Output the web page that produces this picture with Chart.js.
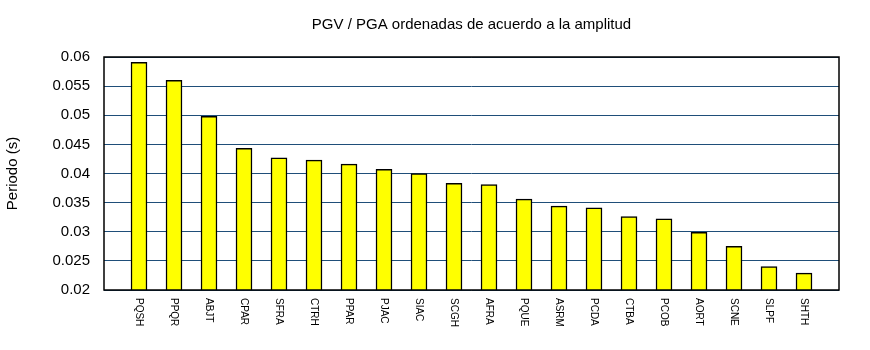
<!DOCTYPE html>
<html lang="es">
<head>
<meta charset="UTF-8" />
<title>PGV / PGA ordenadas de acuerdo a la amplitud</title>
<script src="https://cdn.jsdelivr.net/npm/chart.js"></script>
<style>
  body { margin: 0; background: #fff; }
  #wrap { width: 870px; height: 350px; }
</style>
</head>
<body>
<div id="wrap"><canvas id="periodChart"></canvas></div>
<script>
  const stations = ['PQSH', 'PPQR', 'ABJT', 'CPAR', 'SFRA', 'CTRH', 'PPAR', 'PJAC', 'SIAC', 'SCGH',
                    'AFRA', 'PQUE', 'ASRM', 'PCDA', 'CTBA', 'PCOB', 'AORT', 'SCNE', 'SLPF', 'SHTH'];
  const periods = [0.0591, 0.0560, 0.0498, 0.0443, 0.0427, 0.0423, 0.0416, 0.0407, 0.0400, 0.0383,
                   0.0381, 0.0356, 0.0344, 0.0341, 0.0326, 0.0322, 0.0299, 0.0275, 0.0240, 0.0229];
  const yMin = 0.02, yMax = 0.06, yStep = 0.005;

  const font = 'Liberation Sans, Arial, sans-serif';

  // labels read top-to-bottom, plus the closed box round the plot
  const boxAndLabels = {
    id: 'boxAndLabels',
    afterDraw(chart) {
      const ctx = chart.ctx;
      const xs = chart.scales.x;
      const a = chart.chartArea;
      ctx.save();
      ctx.font = '10px ' + font;
      ctx.fillStyle = '#000';
      ctx.textAlign = 'left';
      ctx.textBaseline = 'middle';
      stations.forEach((s, i) => {
        const x = xs.getPixelForValue(i + 1);
        ctx.save();
        ctx.translate(x, a.bottom + 8);
        ctx.rotate(Math.PI / 2);
        ctx.fillText(s, 0, 0);
        ctx.restore();
      });
      ctx.strokeStyle = '#000';
      ctx.lineWidth = 1.5;
      ctx.strokeRect(a.left, a.top, a.right - a.left, a.bottom - a.top);
      ctx.restore();
    }
  };

  new Chart(document.getElementById('periodChart'), {
    type: 'bar',
    data: {
      datasets: [{
        data: periods.map((p, i) => ({ x: i + 1, y: p })),
        backgroundColor: '#ffff00',
        borderColor: '#000',
        borderWidth: 1.5,
        barThickness: 16
      }]
    },
    options: {
      responsive: true,
      maintainAspectRatio: false,
      animation: false,
      layout: { padding: { right: 31 } },
      plugins: {
        legend: { display: false },
        tooltip: { enabled: false },
        title: {
          display: true,
          fullSize: false,
          text: 'PGV / PGA ordenadas de acuerdo a la amplitud',
          color: '#000',
          font: { family: font, size: 15, weight: 'normal' },
          padding: { top: 16, bottom: 23 }
        }
      },
      scales: {
        x: {
          type: 'linear',
          min: 0,
          max: stations.length + 1,
          offset: false,
          grid: { display: false, offset: false },
          border: { display: false },
          ticks: { display: false },
          afterFit(scale) { scale.height = 60; }
        },
        y: {
          min: yMin,
          max: yMax,
          grid: { color: '#1f4e79', lineWidth: 1, drawTicks: false },
          border: { display: false },
          ticks: {
            stepSize: yStep,
            padding: 14,
            color: '#000',
            font: { family: font, size: 15 },
            callback: v => String(Number(v.toFixed(4)))
          },
          title: {
            display: true,
            text: 'Periodo (s)',
            color: '#000',
            font: { family: font, size: 15 },
            padding: { top: 4, bottom: 4 }
          },
          afterFit(scale) { scale.width = 104; }
        }
      }
    },
    plugins: [boxAndLabels]
  });
</script>
</body>
</html>
